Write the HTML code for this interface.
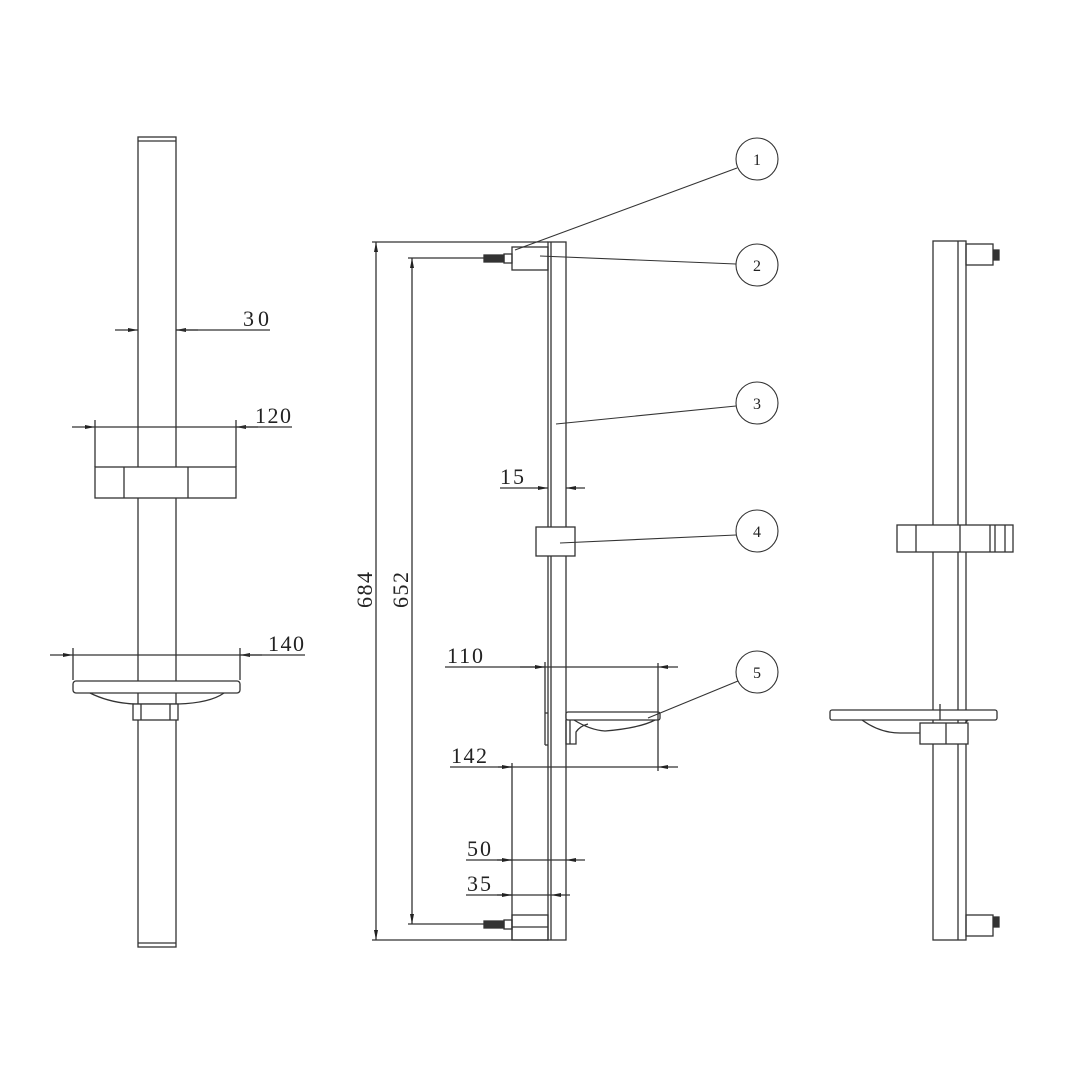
<!DOCTYPE html>
<html><head><meta charset="utf-8"><style>html,body{margin:0;padding:0;background:#fff}svg{display:block}</style></head><body>
<svg width="1080" height="1080" viewBox="0 0 1080 1080" xmlns="http://www.w3.org/2000/svg" font-family="Liberation Serif, serif" fill="none" stroke="#333" stroke-width="1.3">
<defs>
<marker id="a" viewBox="0 0 10 6" refX="10" refY="3" markerWidth="10" markerHeight="6" orient="auto-start-reverse" markerUnits="userSpaceOnUse"><path d="M0,1 L10,3 L0,5z" fill="#222" stroke="none"/></marker>
</defs>
<!-- LEFT VIEW -->
<rect x="138" y="137" width="38" height="810"/>
<line x1="138" y1="141" x2="176" y2="141"/>
<line x1="138" y1="943" x2="176" y2="943"/>
<line x1="115" y1="330" x2="138" y2="330" marker-end="url(#a)"/>
<line x1="198" y1="330" x2="176" y2="330" marker-end="url(#a)"/>
<line x1="176" y1="330" x2="270" y2="330"/>
<text x="243" y="326" font-size="22" fill="#222" stroke="none" textLength="26">30</text>
<line x1="95" y1="420" x2="95" y2="467"/><line x1="236" y1="420" x2="236" y2="467"/>
<line x1="72" y1="427" x2="95" y2="427" marker-end="url(#a)"/>
<line x1="258" y1="427" x2="236" y2="427" marker-end="url(#a)"/>
<line x1="95" y1="427" x2="292" y2="427"/>
<text x="255" y="423" font-size="22" fill="#222" stroke="none" textLength="36">120</text>
<rect x="95" y="467" width="141" height="31" fill="#fff"/>
<line x1="124" y1="467" x2="124" y2="498"/><line x1="188" y1="467" x2="188" y2="498"/>
<line x1="73" y1="648" x2="73" y2="680"/><line x1="240" y1="648" x2="240" y2="680"/>
<line x1="50" y1="655" x2="73" y2="655" marker-end="url(#a)"/>
<line x1="262" y1="655" x2="240" y2="655" marker-end="url(#a)"/>
<line x1="73" y1="655" x2="305" y2="655"/>
<text x="268" y="651" font-size="22" fill="#222" stroke="none" textLength="36">140</text>
<rect x="73" y="681" width="167" height="12" rx="3" fill="#fff"/>
<path d="M90,693 Q110,703 135,704 L178,704 Q210,703 224,693"/>
<rect x="133" y="704" width="45" height="16" fill="#fff"/>
<line x1="141" y1="704" x2="141" y2="720"/><line x1="170" y1="704" x2="170" y2="720"/>
<!-- MIDDLE VIEW -->
<rect x="548" y="242" width="18" height="698"/>
<line x1="551" y1="242" x2="551" y2="940"/>
<rect x="512" y="247" width="36" height="23"/>
<rect x="512" y="915" width="36" height="25"/>
<line x1="512" y1="927" x2="548" y2="927"/>
<rect x="484" y="255" width="20" height="7" fill="#333"/><rect x="504" y="254" width="8" height="9"/>
<rect x="484" y="921" width="20" height="7" fill="#333"/><rect x="504" y="920" width="8" height="9"/>
<line x1="372" y1="242" x2="548" y2="242"/>
<line x1="372" y1="940" x2="548" y2="940"/>
<line x1="376" y1="591" x2="376" y2="242" marker-end="url(#a)"/>
<line x1="376" y1="591" x2="376" y2="940" marker-end="url(#a)"/>
<line x1="408" y1="258" x2="484" y2="258"/>
<line x1="408" y1="924" x2="484" y2="924"/>
<line x1="412" y1="591" x2="412" y2="258" marker-end="url(#a)"/>
<line x1="412" y1="591" x2="412" y2="924" marker-end="url(#a)"/>
<text transform="translate(372,608) rotate(-90)" font-size="22" fill="#222" stroke="none" textLength="36">684</text>
<text transform="translate(408,608) rotate(-90)" font-size="22" fill="#222" stroke="none" textLength="36">652</text>
<line x1="500" y1="488" x2="548" y2="488" marker-end="url(#a)"/>
<line x1="585" y1="488" x2="566" y2="488" marker-end="url(#a)"/>
<text x="500" y="484" font-size="22" fill="#222" stroke="none" textLength="24">15</text>
<rect x="536" y="527" width="39" height="29" fill="#fff"/>
<!-- dish side -->
<line x1="545" y1="662" x2="545" y2="745"/>
<line x1="545" y1="713" x2="548" y2="713"/><line x1="545" y1="745" x2="548" y2="745"/>
<rect x="566" y="712" width="94" height="8" rx="2" fill="#fff"/>
<path d="M574,720 Q590,730 605,731 Q640,728 655,720"/>
<path d="M566,720 L566,744 L576,744 L576,732 Q580,726 588,724"/>
<line x1="570" y1="720" x2="570" y2="744"/>
<line x1="445" y1="667" x2="545" y2="667"/>
<line x1="520" y1="667" x2="545" y2="667" marker-end="url(#a)"/>
<line x1="545" y1="667" x2="658" y2="667"/>
<line x1="678" y1="667" x2="658" y2="667" marker-end="url(#a)"/>
<line x1="658" y1="663" x2="658" y2="771"/>
<text x="447" y="663" font-size="22" fill="#222" stroke="none" textLength="36">110</text>
<line x1="450" y1="767" x2="512" y2="767"/>
<line x1="498" y1="767" x2="512" y2="767" marker-end="url(#a)"/>
<line x1="512" y1="767" x2="658" y2="767"/>
<line x1="678" y1="767" x2="658" y2="767" marker-end="url(#a)"/>
<line x1="512" y1="763" x2="512" y2="940"/>
<text x="451" y="763" font-size="22" fill="#222" stroke="none" textLength="36">142</text>
<line x1="466" y1="860" x2="512" y2="860"/>
<line x1="497" y1="860" x2="512" y2="860" marker-end="url(#a)"/>
<line x1="512" y1="860" x2="566" y2="860"/>
<line x1="585" y1="860" x2="566" y2="860" marker-end="url(#a)"/>
<text x="467" y="856" font-size="22" fill="#222" stroke="none" textLength="24">50</text>
<line x1="466" y1="895" x2="512" y2="895"/>
<line x1="497" y1="895" x2="512" y2="895" marker-end="url(#a)"/>
<line x1="512" y1="895" x2="551" y2="895"/>
<line x1="570" y1="895" x2="551" y2="895" marker-end="url(#a)"/>
<text x="467" y="891" font-size="22" fill="#222" stroke="none" textLength="24">35</text>
<!-- callouts -->
<g stroke-width="1.1">
<circle cx="757" cy="159" r="21"/><circle cx="757" cy="265" r="21"/><circle cx="757" cy="403" r="21"/><circle cx="757" cy="531" r="21"/><circle cx="757" cy="672" r="21"/>
<line x1="737" y1="168" x2="515" y2="250"/>
<line x1="736" y1="264" x2="540" y2="256"/>
<line x1="736" y1="406" x2="556" y2="424"/>
<line x1="736" y1="535" x2="560" y2="543"/>
<line x1="738" y1="681" x2="648" y2="718"/>
</g>
<g font-size="16" fill="#222" stroke="none" text-anchor="middle">
<text x="757" y="165">1</text><text x="757" y="271">2</text><text x="757" y="409">3</text><text x="757" y="537">4</text><text x="757" y="678">5</text>
</g>
<!-- RIGHT VIEW -->
<rect x="933" y="241" width="33" height="699"/>
<line x1="958" y1="241" x2="958" y2="940"/>
<rect x="966" y="244" width="27" height="21"/>
<rect x="966" y="915" width="27" height="21"/>
<rect x="994" y="250" width="5" height="10" fill="#333"/>
<rect x="994" y="917" width="5" height="10" fill="#333"/>
<rect x="897" y="525" width="116" height="27" fill="#fff"/>
<line x1="916" y1="525" x2="916" y2="552"/><line x1="960" y1="525" x2="960" y2="552"/>
<line x1="990" y1="525" x2="990" y2="552"/><line x1="995" y1="525" x2="995" y2="552"/><line x1="1005" y1="525" x2="1005" y2="552"/>
<rect x="830" y="710" width="167" height="10" rx="2" fill="#fff"/>
<line x1="940" y1="704" x2="940" y2="720"/>
<path d="M862,720 Q880,733 900,733 L940,733 Q960,730 968,720"/>
<rect x="920" y="723" width="48" height="21" fill="#fff"/>
<line x1="946" y1="723" x2="946" y2="744"/>
</svg>
</body></html>
